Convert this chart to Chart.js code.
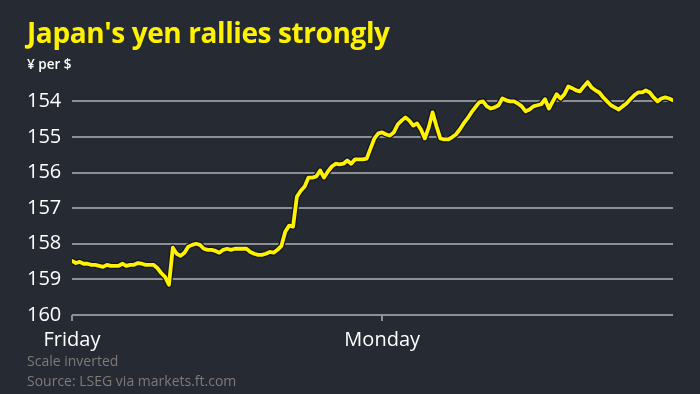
<!DOCTYPE html>
<html>
<head>
<meta charset="utf-8">
<script src="https://cdn.jsdelivr.net/npm/chart.js@4.4.1/dist/chart.umd.min.js"></script>
<style>
  html, body { margin: 0; padding: 0; background: #262a33; }
  #wrap { position: relative; width: 700px; height: 394px; overflow: hidden; background: #262a33; }
  #c { position: absolute; left: 0; top: 0; }
  .t { position: absolute; left: 27px; white-space: nowrap; font-family: "Open Sans", "Noto Sans", sans-serif; }
  #title { top: 13px; font-size: 28px; font-weight: 700; color: #fff200; letter-spacing: -0.4px; }
  #sub { top: 55px; font-size: 13.5px; font-weight: 600; color: #ffffff; }
  #note { top: 351px; font-size: 14px; color: #7f7b77; }
  #src { top: 371px; font-size: 14px; color: #7f7b77; }
</style>
</head>
<body>
<div id="wrap">
  <canvas id="c" width="700" height="394"></canvas>
  <div class="t" id="title">Japan's yen rallies strongly</div>
  <div class="t" id="sub">¥ per $</div>
  <div class="t" id="note">Scale inverted</div>
  <div class="t" id="src">Source: LSEG via markets.ft.com</div>
</div>
<script>
// Tick labels on the time axis and the positions (sample index) they mark
const dayLabels = ["Friday", "Monday"];
const dayIndex = [0, 80];

// Y axis tick values (yen per dollar, scale inverted)
const yTicks = [154, 155, 156, 157, 158, 159, 160];

// Yen per dollar, sampled evenly through the period shown
const yenPerDollar = [
  158.48, 158.54, 158.51, 158.56, 158.56, 158.59, 158.59, 158.62, 158.65, 158.59,
  158.62, 158.62, 158.62, 158.56, 158.62, 158.59, 158.59, 158.54, 158.56, 158.59,
  158.59, 158.59, 158.68, 158.82, 158.93, 159.15, 158.11, 158.28, 158.34, 158.25,
  158.08, 158.03, 158.00, 158.03, 158.14, 158.17, 158.17, 158.20, 158.25, 158.17,
  158.14, 158.17, 158.14, 158.14, 158.14, 158.14, 158.23, 158.28, 158.31, 158.31,
  158.28, 158.23, 158.25, 158.17, 158.06, 157.66, 157.49, 157.52, 156.68, 156.51,
  156.39, 156.14, 156.14, 156.11, 155.94, 156.14, 155.97, 155.83, 155.75, 155.77,
  155.75, 155.66, 155.75, 155.63, 155.63, 155.63, 155.61, 155.32, 155.04, 154.90,
  154.87, 154.93, 154.96, 154.87, 154.65, 154.54, 154.45, 154.54, 154.68, 154.62,
  154.79, 155.04, 154.73, 154.31, 154.70, 155.04, 155.07, 155.07, 155.01, 154.93,
  154.79, 154.62, 154.48, 154.31, 154.17, 154.03, 154.00, 154.14, 154.20, 154.17,
  154.11, 153.92, 153.97, 154.00, 154.00, 154.06, 154.14, 154.28, 154.23, 154.14,
  154.11, 154.08, 153.94, 154.20, 154.00, 153.80, 153.92, 153.80, 153.58, 153.63,
  153.69, 153.72, 153.58, 153.46, 153.61, 153.69, 153.75, 153.89, 154.00, 154.11,
  154.17, 154.23, 154.14, 154.06, 153.94, 153.83, 153.75, 153.75, 153.69, 153.75,
  153.89, 154.00, 153.92, 153.89, 153.92, 153.97
];

const points = yenPerDollar.map((v, i) => ({ x: i, y: v }));
const lastIndex = yenPerDollar.length - 1;

new Chart(document.getElementById('c'), {
  type: 'line',
  data: {
    datasets: [
      {
        data: points,
        borderColor: '#fff200',
        borderWidth: 3.8,
        pointRadius: 0,
        tension: 0,
        borderJoinStyle: 'round',
        borderCapStyle: 'round',
        order: 0
      },
      {
        data: points,
        borderColor: '#141824',
        borderWidth: 6.5,
        pointRadius: 0,
        tension: 0,
        borderJoinStyle: 'round',
        borderCapStyle: 'round',
        order: 1
      }
    ]
  },
  options: {
    responsive: false,
    animation: false,
    events: [],
    layout: { padding: { left: 27, right: 27, top: 80, bottom: 0 } },
    plugins: { legend: { display: false }, tooltip: { enabled: false } },
    scales: {
      x: {
        type: 'linear',
        min: 0,
        max: lastIndex,
        afterBuildTicks: (s) => { s.ticks = dayIndex.map(v => ({ value: v })); },
        afterFit: (s) => { s.height = 79; },
        border: { display: false },
        grid: { drawOnChartArea: false, drawTicks: true, tickLength: 6, color: '#8f9096', lineWidth: 2 },
        ticks: {
          autoSkip: false,
          maxRotation: 0,
          padding: 7,
          color: '#ffffff',
          font: { family: '"Open Sans", sans-serif', size: 20 },
          callback: (v) => { const k = dayIndex.indexOf(v); return k >= 0 ? dayLabels[k] : ''; }
        }
      },
      y: {
        reverse: true,
        min: 153.4,
        max: 160,
        afterBuildTicks: (s) => { s.ticks = yTicks.map(v => ({ value: v })); },
        afterFit: (s) => { s.width = 45; },
        border: { display: false },
        grid: { drawTicks: false, color: '#8f9096', lineWidth: 2 },
        ticks: {
          crossAlign: 'far',
          padding: 0,
          color: '#ffffff',
          font: { family: '"Open Sans", sans-serif', size: 20 },
          callback: (v) => String(v)
        }
      }
    }
  }
});
</script>
</body>
</html>
